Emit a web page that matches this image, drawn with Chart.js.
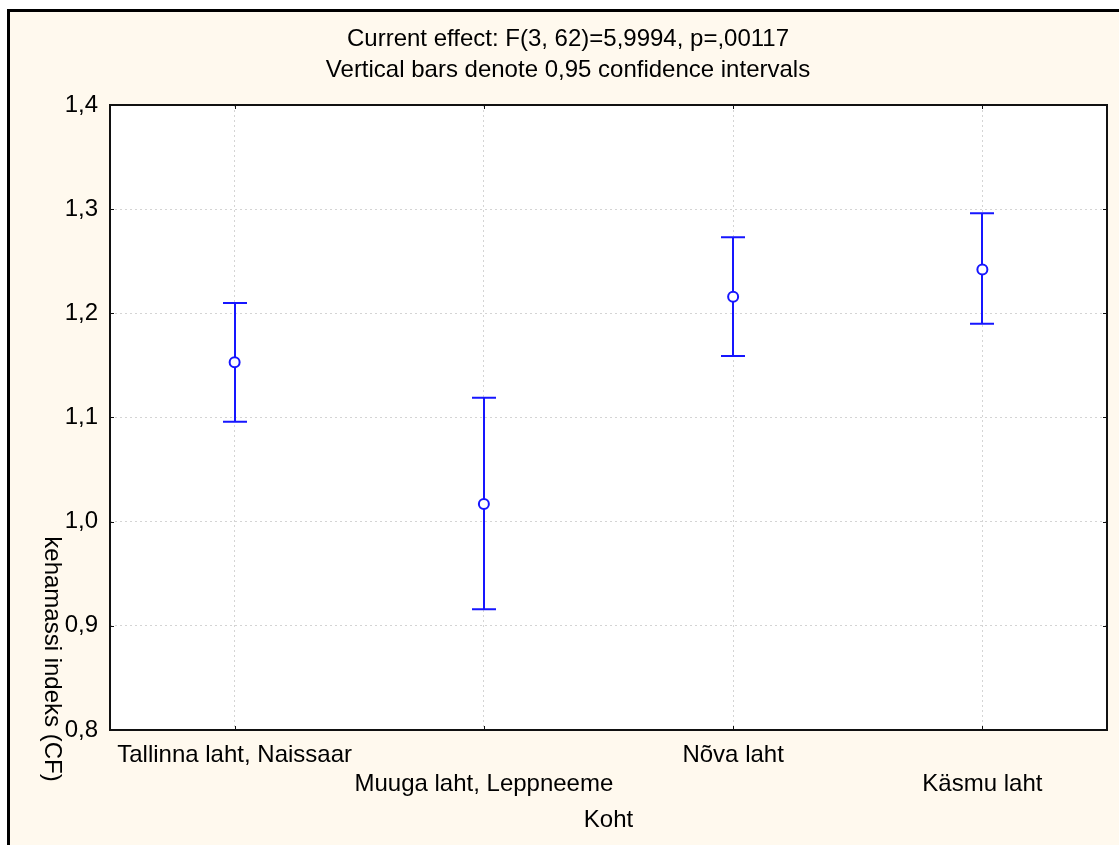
<!DOCTYPE html>
<html>
<head>
<meta charset="utf-8">
<script src="https://cdn.jsdelivr.net/npm/chart.js@4/dist/chart.umd.min.js"></script>
<style>
  html, body { margin: 0; padding: 0; background: #fff; overflow: hidden; }
  canvas { display: block; }
</style>
</head>
<body>
<canvas id="chart" width="1119" height="845"></canvas>
<script>
// data
const places = [
  ["Tallinna laht, Naissaar", ""],
  ["", "Muuga laht, Leppneeme"],
  ["Nõva laht", ""],
  ["", "Käsmu laht"]
];
const means = [1.153, 1.017, 1.216, 1.242];
const lower = [1.096, 0.916, 1.159, 1.190];
const upper = [1.210, 1.119, 1.273, 1.296];
const titleLines = [
  "Current effect: F(3, 62)=5,9994, p=,00117",
  "Vertical bars denote 0,95 confidence intervals"
];
const xTitle = "Koht";
const yTitle = "kehamassi indeks (CF)";

const blue = "#1616ff";
const cream = "#fff9ee";

Chart.defaults.font.family = "'Liberation Sans', Arial, sans-serif";
Chart.defaults.font.size = 24;
Chart.defaults.color = "#000";

const frame = {
  id: "frame",
  beforeDraw(chart) {
    const ctx = chart.ctx;
    const a = chart.chartArea;
    ctx.save();
    ctx.fillStyle = "#fff";
    ctx.fillRect(0, 0, chart.width, chart.height);
    ctx.fillStyle = cream;
    ctx.fillRect(8, 10, chart.width, chart.height);
    ctx.strokeStyle = "#000";
    ctx.lineWidth = 3;
    ctx.beginPath();
    ctx.moveTo(8.5, chart.height);
    ctx.lineTo(8.5, 10.5);
    ctx.lineTo(chart.width, 10.5);
    ctx.stroke();
    ctx.fillStyle = "#fff";
    ctx.fillRect(a.left, a.top, a.right - a.left, a.bottom - a.top);
    ctx.restore();
  },
  beforeDatasetsDraw(chart) {
    // error bars
    const ctx = chart.ctx;
    const x = chart.scales.x, y = chart.scales.y;
    ctx.save();
    ctx.strokeStyle = blue;
    ctx.lineWidth = 2;
    for (let i = 0; i < means.length; i++) {
      const px = Math.round(x.getPixelForValue(i));
      const lo = y.getPixelForValue(lower[i]);
      const hi = y.getPixelForValue(upper[i]);
      ctx.beginPath();
      ctx.moveTo(px, lo); ctx.lineTo(px, hi);
      ctx.moveTo(px - 12, lo); ctx.lineTo(px + 12, lo);
      ctx.moveTo(px - 12, hi); ctx.lineTo(px + 12, hi);
      ctx.stroke();
    }
    ctx.restore();
  },
  afterDraw(chart) {
    const ctx = chart.ctx;
    const a = chart.chartArea;
    const x = chart.scales.x, y = chart.scales.y;
    ctx.save();
    ctx.strokeStyle = "#111";
    ctx.lineWidth = 2;
    ctx.strokeRect(a.left, a.top, a.right - a.left, a.bottom - a.top);
    // inward tick marks
    ctx.lineWidth = 1;
    ctx.beginPath();
    for (let i = 0; i < places.length; i++) {
      const px = Math.round(x.getPixelForValue(i)) + 0.5;
      ctx.moveTo(px, a.top); ctx.lineTo(px, a.top + 4);
      ctx.moveTo(px, a.bottom); ctx.lineTo(px, a.bottom - 4);
    }
    y.ticks.forEach(t => {
      const py = Math.round(y.getPixelForValue(t.value)) + 0.5;
      ctx.moveTo(a.left, py); ctx.lineTo(a.left + 4, py);
      ctx.moveTo(a.right, py); ctx.lineTo(a.right - 4, py);
    });
    ctx.stroke();
    // y axis title, reading downward
    ctx.translate(52, 659);
    ctx.rotate(Math.PI / 2);
    ctx.fillStyle = "#000";
    ctx.font = "24px 'Liberation Sans', Arial, sans-serif";
    ctx.textAlign = "center";
    ctx.textBaseline = "middle";
    ctx.fillText(yTitle, 0, 0);
    ctx.restore();
  }
};

new Chart(document.getElementById("chart"), {
  type: "line",
  data: {
    labels: places,
    datasets: [{
      data: means,
      showLine: false,
      borderColor: blue,
      backgroundColor: "#fff",
      pointRadius: 5,
      pointBorderWidth: 2,
      pointBackgroundColor: "#fff",
      pointBorderColor: blue
    }]
  },
  options: {
    responsive: false,
    animation: false,
    layout: { padding: { left: 29, right: 12, top: 0, bottom: 0 } },
    plugins: {
      legend: { display: false },
      tooltip: { enabled: false },
      title: {
        display: true,
        text: titleLines,
        font: { size: 24, weight: "normal", lineHeight: 1.3 },
        color: "#000",
        padding: { top: 24, bottom: 18.6 }
      }
    },
    scales: {
      x: {
        offset: true,
        grid: { offset: false, color: "#d4d4d4", lineWidth: 1, drawTicks: false },
        border: { display: false, dash: [2, 3] },
        ticks: { autoRotation: false, maxRotation: 0, autoSkip: false, padding: 11, color: "#000" },
        title: { display: true, text: xTitle, padding: { top: 10, bottom: 10 }, color: "#000" },
        afterFit(scale) { scale.height = 115; }
      },
      y: {
        min: 0.8,
        max: 1.4,
        grid: { color: "#d4d4d4", lineWidth: 1, drawTicks: false },
        border: { display: false, dash: [2, 3] },
        ticks: {
          stepSize: 0.1,
          padding: 12,
          color: "#000",
          callback: v => v.toFixed(1).replace(".", ",")
        },
        afterFit(scale) { scale.width = 81; }
      }
    }
  },
  plugins: [frame]
});
</script>
</body>
</html>
